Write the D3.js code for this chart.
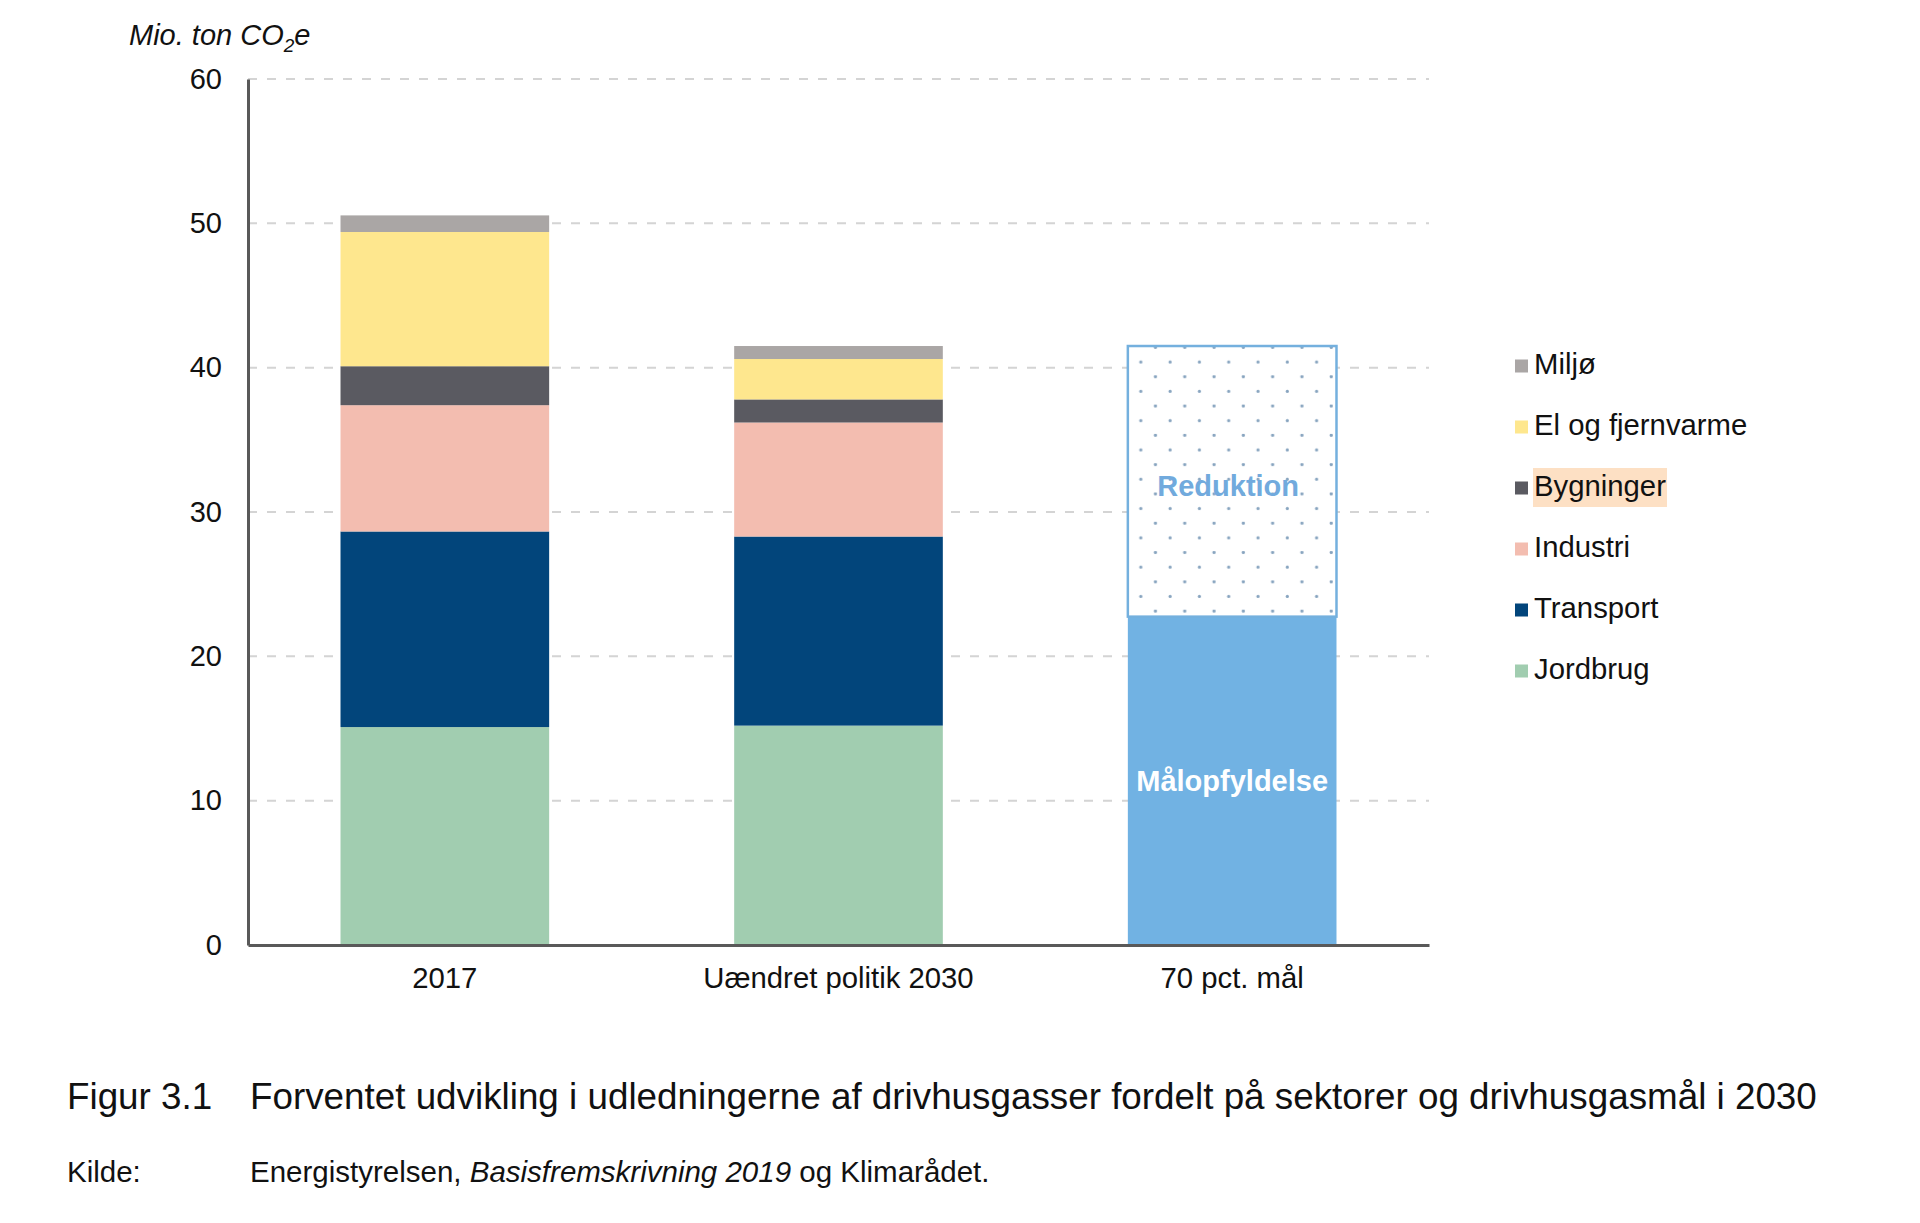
<!DOCTYPE html>
<html>
<head>
<meta charset="utf-8">
<script src="https://cdn.jsdelivr.net/npm/d3@7"></script>
<style>
  html, body { margin: 0; padding: 0; background: #fff; }
  svg { display: block; }
  text { font-family: "Liberation Sans", Arial, sans-serif; fill: #111; }
</style>
</head>
<body>
<svg id="chart" width="1920" height="1223"></svg>
<script>
// ---------- data ----------
const categories = ["2017", "Uændret politik 2030", "70 pct. mål"];
const sectorNames = ["Jordbrug", "Transport", "Industri", "Bygninger", "El og fjernvarme", "Miljø"];
const jordbrug   = [15.1, 15.2, 0];
const transport  = [13.55, 13.1, 0];
const industri   = [8.75, 7.9, 0];
const bygninger  = [2.7, 1.6, 0];
const elFjernvarme = [9.3, 2.8, 0];
const miljoe     = [1.15, 0.9, 0];
const maalopfyldelse = [0, 0, 22.75];
const reduktion  = [0, 0, 18.75];
const yTicks = [0, 10, 20, 30, 40, 50, 60];
const yLabel = "Mio. ton CO";
const captionNo = "Figur 3.1";
const captionText = "Forventet udvikling i udledningerne af drivhusgasser fordelt på sektorer og drivhusgasmål i 2030";

// ---------- styling ----------
const colors = {
  "Jordbrug": "#a1cdb0",
  "Transport": "#02457b",
  "Industri": "#f3bdb0",
  "Bygninger": "#5a5a61",
  "El og fjernvarme": "#fee78e",
  "Miljø": "#aaa6a5",
  "Målopfyldelse": "#71b2e3",
  "Reduktion": "#ffffff"
};

const seriesValues = {
  "Jordbrug": jordbrug,
  "Transport": transport,
  "Industri": industri,
  "Bygninger": bygninger,
  "El og fjernvarme": elFjernvarme,
  "Miljø": miljoe,
  "Målopfyldelse": maalopfyldelse,
  "Reduktion": reduktion
};
const keys = [...sectorNames, "Målopfyldelse", "Reduktion"];
const table = categories.map((c, i) => {
  const row = { category: c };
  keys.forEach(k => row[k] = seriesValues[k][i]);
  return row;
});

const svg = d3.select("#chart");
const plotLeft = 248, plotRight = 1429, plotTop = 79, plotBottom = 945;

const x = d3.scaleBand().domain(categories).range([plotLeft, plotRight])
  .paddingInner(0.47).paddingOuter(0.235);
const y = d3.scaleLinear().domain([0, 60]).range([plotBottom, plotTop]);

// pattern for "Reduktion"
const defs = svg.append("defs");
const bx = x(categories[2]);
const by = y(41.5);
const pat = defs.append("pattern").attr("id", "dots")
  .attr("patternUnits", "userSpaceOnUse")
  .attr("x", bx).attr("y", by).attr("width", 29.3).attr("height", 29.3);
pat.append("rect").attr("width", 29.3).attr("height", 29.3).attr("fill", "#fff");
pat.append("circle").attr("cx", 13).attr("cy", 16).attr("r", 1.6).attr("fill", "#87a4bf");
pat.append("circle").attr("cx", 27.6).attr("cy", 1.35).attr("r", 1.6).attr("fill", "#87a4bf");

// gridlines
svg.append("g").selectAll("line")
  .data(yTicks.filter(t => t > 0))
  .join("line")
  .attr("x1", plotLeft).attr("x2", plotRight)
  .attr("y1", d => y(d)).attr("y2", d => y(d))
  .attr("stroke", "#d4d4d4").attr("stroke-width", 2)
  .attr("stroke-dasharray", "9,10");

// stacked bars
const stack = d3.stack().keys(keys);
const stacked = stack(table);
const gBars = svg.append("g");
stacked.forEach(layer => {
  gBars.append("g").selectAll("rect")
    .data(layer.filter(d => d[1] - d[0] > 0))
    .join("rect")
    .attr("x", d => x(d.data.category))
    .attr("width", x.bandwidth())
    .attr("y", d => y(d[1]))
    .attr("height", d => y(d[0]) - y(d[1]))
    .attr("fill", layer.key === "Reduktion" ? "url(#dots)" : colors[layer.key])
    .attr("stroke", layer.key === "Reduktion" ? "#74b0de" : "none")
    .attr("stroke-width", layer.key === "Reduktion" ? 2.5 : 0);
});

// labels inside the target bar
stacked.filter(l => l.key === "Målopfyldelse" || l.key === "Reduktion").forEach(layer => {
  layer.filter(d => d[1] - d[0] > 0).forEach(d => {
    const isRed = layer.key === "Reduktion";
    svg.append("text")
      .attr("x", x(d.data.category) + x.bandwidth() / 2 + (isRed ? -4 : 0))
      .attr("y", y((d[0] + d[1]) / 2) + (isRed ? 7 : 3))
      .attr("text-anchor", "middle")
      .attr("dominant-baseline", "middle")
      .style("font-size", "29px").style("font-weight", "bold")
      .style("fill", isRed ? "#71aadd" : "#ffffff")
      .text(layer.key);
  });
});

// axes
const yAxis = d3.axisLeft(y).tickValues(yTicks).tickSize(0).tickPadding(26);
const gy = svg.append("g").attr("transform", `translate(${plotLeft},0)`).call(yAxis);
gy.select(".domain").attr("stroke", "#595959").attr("stroke-width", 3);
gy.selectAll("text").style("font-size", "29px").style("font-family", '"Liberation Sans", Arial, sans-serif').style("fill", "#111");

const xAxis = d3.axisBottom(x).tickSize(0).tickPadding(22);
const gx = svg.append("g").attr("transform", `translate(0,${plotBottom})`).call(xAxis);
gx.select(".domain").attr("stroke", "#595959").attr("stroke-width", 3);
gx.selectAll("text").style("font-size", "29.3px").style("font-family", '"Liberation Sans", Arial, sans-serif').style("fill", "#111");

// y-axis unit label
const yl = svg.append("text").attr("x", 129).attr("y", 45)
  .style("font-size", "29px").style("font-style", "italic");
yl.append("tspan").text(yLabel);
yl.append("tspan").attr("dy", 7).style("font-size", "19px").text("2");
yl.append("tspan").attr("dy", -7).text("e");

// legend
const legendItems = sectorNames.slice().reverse();
const lg = svg.append("g");
legendItems.forEach((name, i) => {
  const cy = 366 + i * 61;
  if (name === "Bygninger") {
    lg.append("rect").attr("x", 1533).attr("y", cy - 20).attr("width", 134).attr("height", 39)
      .attr("fill", "#fde0c4");
  }
  lg.append("rect").attr("x", 1515).attr("y", cy - 6.5).attr("width", 13).attr("height", 13)
    .attr("fill", colors[name]);
  lg.append("text").attr("x", 1534).attr("y", cy).attr("dominant-baseline", "middle")
    .style("font-size", "29.3px").text(name);
});

// caption
svg.append("text").attr("x", 67).attr("y", 1109).style("font-size", "36.8px").text(captionNo);
svg.append("text").attr("x", 250).attr("y", 1109).style("font-size", "36.8px").text(captionText);
const src = svg.append("text").attr("x", 67).attr("y", 1182).style("font-size", "29.5px");
src.append("tspan").text("Kilde:");
const src2 = svg.append("text").attr("x", 250).attr("y", 1182).style("font-size", "29.5px");
src2.append("tspan").text("Energistyrelsen, ");
src2.append("tspan").style("font-style", "italic").text("Basisfremskrivning 2019");
src2.append("tspan").text(" og Klimarådet.");
</script>
</body>
</html>
